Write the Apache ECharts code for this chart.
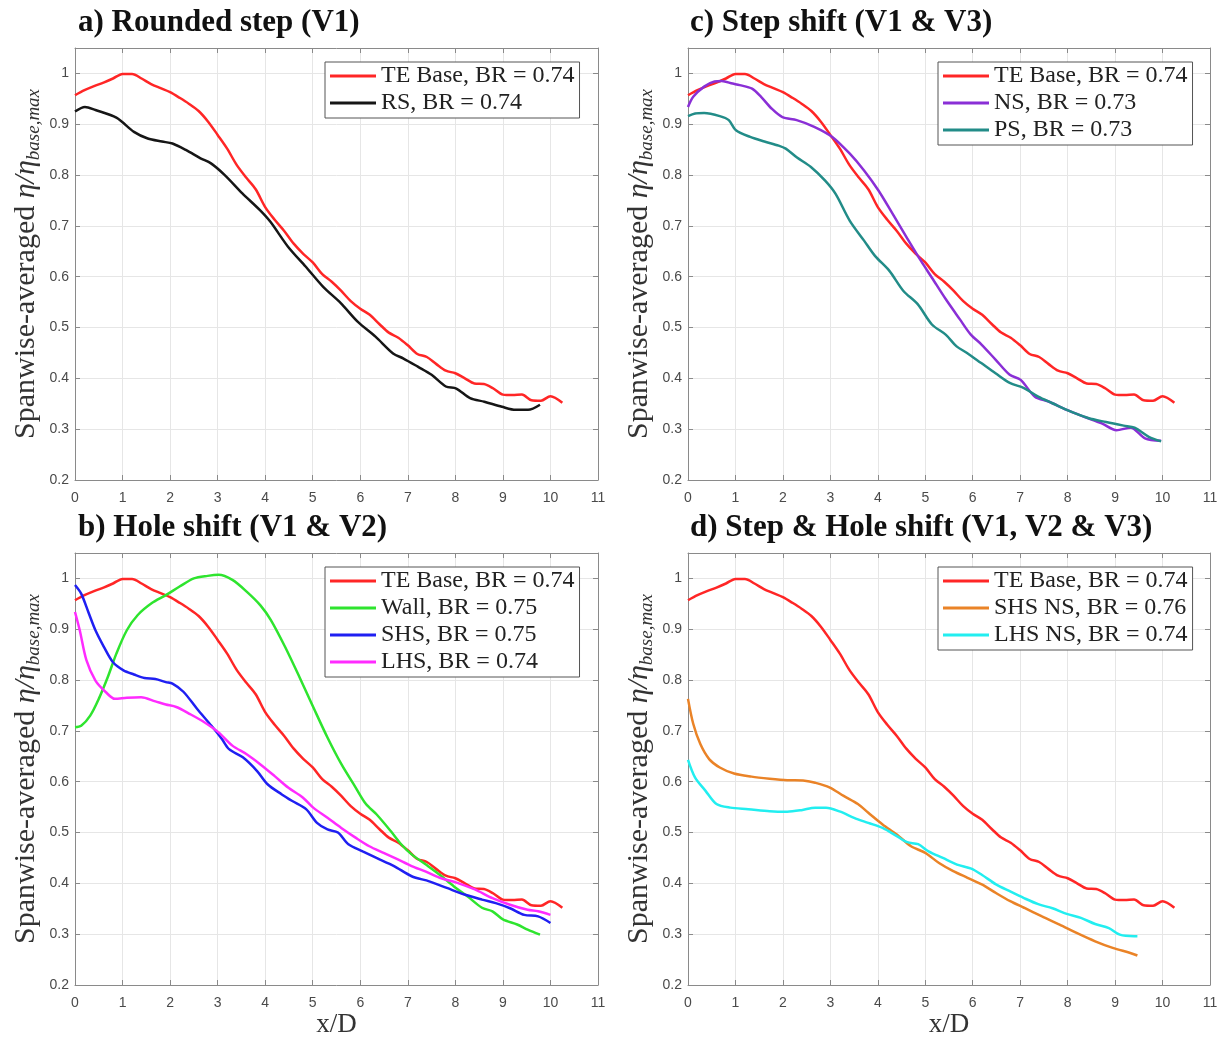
<!DOCTYPE html>
<html><head><meta charset="utf-8">
<script src="https://cdn.jsdelivr.net/npm/echarts@6/dist/echarts.min.js"></script>
<style>html,body{margin:0;padding:0;background:#fff}#c{width:1226px;height:1043px}</style>
</head><body><div id="c"></div><script>
// ---------- data (x/D, eta/eta_base,max) ----------
const xTickLabels = ['0','1','2','3','4','5','6','7','8','9','10','11'];
const yTickLabels = ['0.2','0.3','0.4','0.5','0.6','0.7','0.8','0.9','1'];

const teBase = [[0,0.957],[0.2,0.967],[0.4,0.975],[0.6,0.982],[0.8,0.99],[1.0,0.999],[1.2,0.999],[1.4,0.99],[1.6,0.979],[1.8,0.971],[2.0,0.963],[2.2,0.952],[2.4,0.94],[2.6,0.926],[2.8,0.905],[3.0,0.879],[3.2,0.852],[3.4,0.82],[3.6,0.795],[3.8,0.772],[4.0,0.737],[4.2,0.712],[4.4,0.69],[4.6,0.665],[4.8,0.645],[5.0,0.628],[5.2,0.605],[5.4,0.59],[5.6,0.572],[5.8,0.552],[6.0,0.537],[6.2,0.525],[6.4,0.507],[6.6,0.49],[6.8,0.48],[7.0,0.465],[7.2,0.448],[7.4,0.442],[7.6,0.428],[7.8,0.415],[8.0,0.41],[8.2,0.4],[8.4,0.39],[8.6,0.389],[8.8,0.38],[9.0,0.368],[9.2,0.367],[9.4,0.368],[9.6,0.357],[9.8,0.356],[10.0,0.365],[10.25,0.352]];

const rs = [[0,0.925],[0.21,0.934],[0.43,0.928],[0.87,0.913],[1.24,0.885],[1.53,0.872],[1.83,0.866],[2.05,0.862],[2.34,0.849],[2.64,0.833],[2.86,0.823],[3.15,0.8],[3.52,0.764],[3.89,0.731],[4.11,0.708],[4.48,0.659],[4.85,0.62],[5.22,0.58],[5.59,0.548],[5.95,0.511],[6.32,0.482],[6.69,0.449],[6.91,0.439],[7.21,0.423],[7.5,0.407],[7.8,0.384],[8.02,0.38],[8.31,0.361],[8.61,0.354],[8.98,0.344],[9.27,0.338],[9.53,0.338],[9.78,0.348]];

const wall = [[0,0.707],[0.13,0.71],[0.32,0.73],[0.5,0.763],[0.69,0.806],[0.87,0.852],[1.09,0.898],[1.32,0.928],[1.61,0.951],[1.91,0.967],[2.2,0.984],[2.5,1.0],[2.79,1.005],[3.02,1.007],[3.31,0.997],[3.61,0.974],[3.9,0.947],[4.12,0.918],[4.42,0.865],[4.72,0.806],[5.01,0.747],[5.31,0.687],[5.6,0.635],[5.9,0.589],[6.12,0.556],[6.34,0.536],[6.64,0.503],[6.86,0.477],[7.08,0.457],[7.38,0.437],[7.67,0.417],[7.97,0.394],[8.26,0.374],[8.56,0.352],[8.78,0.345],[9.0,0.329],[9.3,0.319],[9.52,0.309],[9.78,0.299]];

const shs = [[0,0.987],[0.13,0.97],[0.28,0.934],[0.43,0.898],[0.61,0.865],[0.8,0.835],[1.02,0.819],[1.24,0.811],[1.46,0.804],[1.69,0.802],[1.91,0.796],[2.05,0.793],[2.28,0.777],[2.57,0.743],[2.87,0.71],[3.09,0.684],[3.24,0.664],[3.53,0.648],[3.83,0.621],[4.05,0.595],[4.35,0.575],[4.57,0.562],[4.86,0.546],[5.09,0.519],[5.31,0.506],[5.53,0.5],[5.75,0.477],[6.05,0.463],[6.34,0.45],[6.71,0.434],[7.08,0.414],[7.45,0.404],[7.82,0.391],[8.19,0.378],[8.56,0.368],[8.85,0.361],[9.15,0.351],[9.45,0.338],[9.74,0.335],[10.0,0.322]];

const lhs = [[0,0.934],[0.1,0.898],[0.24,0.839],[0.43,0.799],[0.65,0.776],[0.84,0.763],[1.09,0.765],[1.39,0.766],[1.69,0.758],[1.91,0.752],[2.13,0.747],[2.42,0.733],[2.72,0.717],[3.02,0.697],[3.31,0.671],[3.61,0.654],[3.9,0.634],[4.2,0.611],[4.49,0.588],[4.79,0.569],[5.01,0.549],[5.31,0.529],[5.6,0.509],[5.9,0.49],[6.19,0.473],[6.49,0.46],[6.79,0.447],[7.08,0.434],[7.38,0.423],[7.67,0.411],[8.04,0.401],[8.41,0.388],[8.78,0.371],[9.15,0.358],[9.52,0.348],[9.74,0.345],[10.0,0.338]];

const ns = [[0,0.934],[0.11,0.954],[0.34,0.974],[0.56,0.984],[0.71,0.985],[0.94,0.98],[1.09,0.977],[1.35,0.97],[1.54,0.954],[1.76,0.931],[1.99,0.914],[2.29,0.908],[2.66,0.895],[3.04,0.875],[3.41,0.842],[3.71,0.809],[4.01,0.77],[4.31,0.724],[4.61,0.677],[4.91,0.631],[5.14,0.598],[5.43,0.556],[5.73,0.516],[5.96,0.486],[6.18,0.467],[6.48,0.437],[6.78,0.407],[7.01,0.397],[7.31,0.364],[7.61,0.354],[7.98,0.338],[8.36,0.324],[8.73,0.311],[9.03,0.298],[9.33,0.303],[9.63,0.282],[9.97,0.277]];

const ps = [[0,0.916],[0.15,0.921],[0.34,0.922],[0.67,0.916],[0.86,0.908],[1.01,0.888],[1.31,0.875],[1.61,0.866],[1.91,0.858],[2.06,0.852],[2.29,0.835],[2.59,0.816],[2.89,0.789],[3.11,0.763],[3.41,0.71],[3.71,0.671],[3.94,0.641],[4.24,0.612],[4.54,0.572],[4.84,0.546],[5.14,0.506],[5.43,0.486],[5.66,0.463],[5.88,0.45],[6.18,0.43],[6.48,0.41],[6.78,0.391],[7.08,0.381],[7.38,0.364],[7.68,0.351],[7.98,0.338],[8.43,0.322],[8.81,0.314],[9.18,0.307],[9.41,0.303],[9.71,0.285],[9.97,0.276]];

const shsNs = [[0,0.763],[0.11,0.714],[0.26,0.674],[0.45,0.644],[0.67,0.628],[0.97,0.616],[1.34,0.61],[1.72,0.606],[2.09,0.603],[2.46,0.602],[2.68,0.598],[2.98,0.589],[3.28,0.572],[3.58,0.556],[3.8,0.539],[4.1,0.516],[4.4,0.496],[4.7,0.473],[5.0,0.46],[5.29,0.44],[5.59,0.424],[5.89,0.411],[6.19,0.398],[6.49,0.381],[6.79,0.365],[7.08,0.352],[7.46,0.335],[7.83,0.319],[8.2,0.302],[8.58,0.286],[8.95,0.273],[9.32,0.263],[9.47,0.258]];

const lhsNs = [[0,0.643],[0.15,0.608],[0.37,0.582],[0.6,0.556],[0.89,0.549],[1.27,0.546],[1.72,0.542],[2.09,0.541],[2.39,0.544],[2.68,0.549],[2.91,0.549],[3.21,0.541],[3.5,0.529],[3.8,0.519],[4.1,0.509],[4.4,0.493],[4.62,0.481],[4.85,0.477],[5.07,0.463],[5.37,0.45],[5.67,0.437],[5.97,0.429],[6.19,0.417],[6.49,0.398],[6.79,0.384],[7.08,0.371],[7.38,0.359],[7.68,0.351],[7.98,0.34],[8.28,0.332],[8.58,0.32],[8.87,0.312],[9.1,0.299],[9.4,0.296],[9.47,0.296]];

const panelTitles = ['a) Rounded step (V1)','b) Hole shift (V1 & V2)','c) Step shift (V1 & V3)','d) Step & Hole shift (V1, V2 & V3)'];
const panelSeries = [
  [['TE Base, BR = 0.74', teBase, '#ff2626'], ['RS, BR = 0.74', rs, '#161616']],
  [['TE Base, BR = 0.74', teBase, '#ff2626'], ['Wall, BR = 0.75', wall, '#2ee42e'], ['SHS, BR = 0.75', shs, '#1f1ff2'], ['LHS, BR = 0.74', lhs, '#ff2bff']],
  [['TE Base, BR = 0.74', teBase, '#ff2626'], ['NS, BR = 0.73', ns, '#8a2fd6'], ['PS, BR = 0.73', ps, '#228c88']],
  [['TE Base, BR = 0.74', teBase, '#ff2626'], ['SHS NS, BR = 0.76', shsNs, '#ea8327'], ['LHS NS, BR = 0.74', lhsNs, '#22eef0']]
];

// ---------- layout ----------
const grids = [
  {left:75, top:48, width:523, height:432},
  {left:75, top:553, width:523, height:432},
  {left:688, top:48, width:522, height:432},
  {left:688, top:553, width:522, height:432}
];
const titlePos = [[78,7],[78,512],[690,7],[690,512]];
const serif = 'Liberation Serif';
const sans = 'Liberation Sans';
const boxColor = '#8a8a8a';

const option = {backgroundColor:'#fff', animation:false, title:[], grid:[], xAxis:[], yAxis:[], legend:[], series:[]};

grids.forEach((g, i) => {
  option.grid.push(Object.assign({containLabel:false}, g));
  option.title.push({text: panelTitles[i], left: titlePos[i][0], top: titlePos[i][1], padding:0,
    textStyle:{fontFamily:serif, fontWeight:'bold', fontSize:31, color:'#111'}});
  const showX = (i === 1 || i === 3);
  option.xAxis.push({type:'value', gridIndex:i, min:0, max:11, interval:1, position:'bottom',
    name: showX ? 'x/D' : '', nameLocation:'middle', nameGap:26,
    nameTextStyle:{fontFamily:serif, fontSize:27, color:'#333'},
    axisLine:{show:true, onZero:false, lineStyle:{color:boxColor, width:1}},
    axisTick:{show:true, inside:true, length:5, lineStyle:{color:boxColor}},
    axisLabel:{fontFamily:sans, fontSize:14, color:'#4a4a4a', margin:11, formatter:v => xTickLabels[Math.round(v)] || ''},
    splitLine:{show:true, lineStyle:{color:'#e6e6e6', width:1}}});
  option.xAxis.push({type:'value', gridIndex:i, min:0, max:11, interval:1, position:'top',
    axisLine:{show:true, onZero:false, lineStyle:{color:boxColor, width:1}},
    axisTick:{show:true, inside:true, length:5, lineStyle:{color:boxColor}},
    axisLabel:{show:false}, splitLine:{show:false}});
  option.yAxis.push({type:'value', gridIndex:i, min:0.2, max:1.05, interval:0.1, position:'left',
    name:'{n|Spanwise-averaged }{m|η/η}{s|base,max}', nameLocation:'middle', nameRotate:90, nameGap:32,
    nameTextStyle:{rich:{
      n:{fontFamily:serif, fontSize:30, color:'#333'},
      m:{fontFamily:serif, fontSize:30, fontStyle:'italic', color:'#333'},
      s:{fontFamily:serif, fontSize:19, fontStyle:'italic', color:'#333', verticalAlign:'bottom', padding:[15,0,0,0]}
    }},
    axisLine:{show:true, onZero:false, lineStyle:{color:boxColor, width:1}},
    axisTick:{show:true, inside:true, length:5, lineStyle:{color:boxColor}},
    axisLabel:{fontFamily:sans, fontSize:14, color:'#4a4a4a', margin:6, showMaxLabel:false,
      formatter:v => { const k = Math.round((v - 0.2) * 10); return Math.abs(v - 0.2 - k*0.1) < 1e-6 ? (yTickLabels[k] || '') : ''; }},
    splitLine:{show:true, lineStyle:{color:'#e6e6e6', width:1}}});
  option.yAxis.push({type:'value', gridIndex:i, min:0.2, max:1.05, interval:0.1, position:'right',
    axisLine:{show:true, onZero:false, lineStyle:{color:boxColor, width:1}},
    axisTick:{show:true, inside:true, length:5, lineStyle:{color:boxColor}},
    axisLabel:{show:false}, splitLine:{show:false}});

  const names = [];
  panelSeries[i].forEach(([name, data, color]) => {
    names.push(name);
    option.series.push({type:'line', name, xAxisIndex:2*i, yAxisIndex:2*i, data,
      symbol:'none', smooth:0.3, lineStyle:{color, width:2.5}, itemStyle:{color}, z:3});
  });
  option.legend.push({orient:'vertical', left: g.left + 250, top: g.top + 14, data:names,
    icon:'rect', itemWidth:46, itemHeight:3, itemGap:3, padding:[2,5,3,5],
    backgroundColor:'#fff', borderColor:'#555', borderWidth:1, borderRadius:0,
    selectedMode:false,
    textStyle:{fontFamily:serif, fontSize:24, color:'#222', lineHeight:22}});
});

const chart = echarts.init(document.getElementById('c'), null, {renderer:'canvas'});
chart.setOption(option);
</script></body></html>
